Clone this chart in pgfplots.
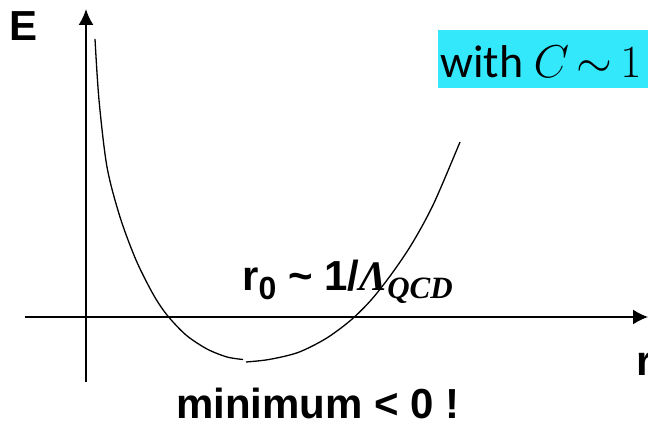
\RequirePackage{fix-cm}
\documentclass[border=0pt]{standalone}
\usepackage[no-math]{fontspec}
\usepackage{pgfplots}
\pgfplotsset{compat=1.18}
\usetikzlibrary{arrows.meta}
\setmainfont{Liberation Sans}
\newfontfamily\carlito{Carlito}
\newfontfamily\lserif{Liberation Serif}
\definecolor{hl}{RGB}{52,232,252}
\begin{document}
\begin{tikzpicture}
\begin{axis}[at={(0,0)},anchor=south west, scale only axis, width=648pt, height=421pt,
  xmin=0,xmax=648,ymin=0,ymax=421, hide axis, clip=false]
\fill[hl] (axis cs:438,333) rectangle (axis cs:660,391);
\addplot[black, line width=2pt, -{Latex[length=16pt,width=15pt]}] coordinates {(86,39) (86,412)};
\addplot[black, line width=1.4pt, -{Latex[length=15pt,width=15pt]}] coordinates {(25,104) (648,104)};
\addplot[black, line width=1.3pt, smooth] coordinates {
 (95,382) (99,321) (107,254) (120,204) (136,161) (153,127) (167,106)
 (186,86) (207,72) (227,64) (243,61.5)};
\addplot[black, line width=1.3pt, smooth] coordinates {
 (246,59) (269,61.5) (298,68.5) (326,82.5) (351,101) (372,122) (393,149) (413,179) (434,218) (460,279)};
\node[anchor=base west, inner sep=0, font=\fontsize{42}{50}\selectfont\bfseries] at (axis cs:9,380) {E};
\node[anchor=base west, inner sep=0, font=\fontsize{46}{50}\selectfont\carlito] at (axis cs:440,343)
  {with $C\mskip3mu{\sim}\mskip3mu 1$};
\node[anchor=base west, inner sep=0, font=\fontsize{42}{50}\selectfont\bfseries] at (axis cs:242,131)
  {r\raisebox{-9pt}{\fontsize{32}{32}\selectfont 0} \textasciitilde{} 1/{\lserif\bfseries\itshape Λ\raisebox{-8pt}{\fontsize{31}{31}\selectfont QCD}}};
\node[anchor=base west, inner sep=0, font=\fontsize{42}{50}\selectfont\bfseries] at (axis cs:176,3) {minimum < 0 !};
\node[anchor=base west, inner sep=0, font=\fontsize{42}{50}\selectfont\bfseries] at (axis cs:636,46) {r};
\end{axis}
\pgfresetboundingbox
\path (0,0) rectangle (648pt,421pt);
\end{tikzpicture}
\end{document}
